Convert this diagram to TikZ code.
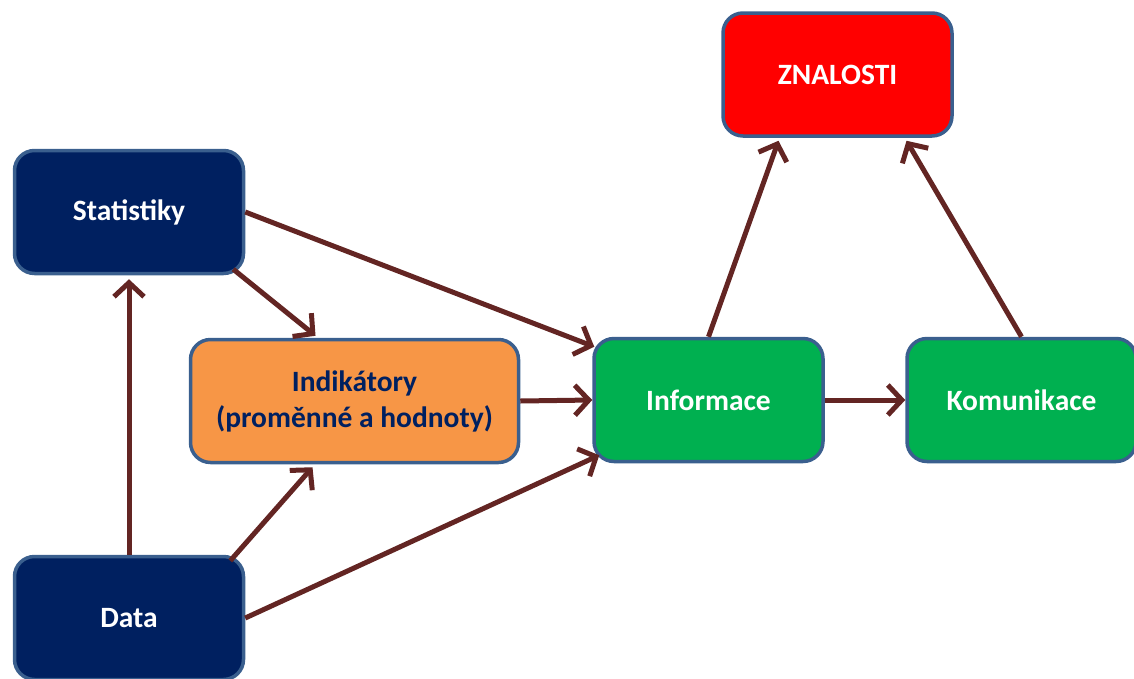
\documentclass[tikz,border=0pt]{standalone}
\usepackage{fontspec}
\setmainfont{Carlito}
\usetikzlibrary{arrows.meta,calc}
\definecolor{navy}{HTML}{002060}
\definecolor{orng}{HTML}{F79646}
\definecolor{grn}{HTML}{00B050}
\definecolor{rd}{HTML}{FF0000}
\definecolor{edge}{HTML}{3A5F8E}
\definecolor{arr}{HTML}{632523}
\tikzset{
  box/.style={draw=edge, line width=3.5pt, rounded corners=20pt,
    minimum width=229pt, minimum height=123pt, inner sep=0pt,
    font=\bfseries\fontsize{29.5}{36}\selectfont, text=white, align=center},
  link/.style={draw=arr, line width=5pt,
    -{Straight Barb[length=14pt,width=30pt,line width=5pt]}}
}
\begin{document}
\begin{tikzpicture}[x=1pt,y=-1pt]
\useasboundingbox (0,0) rectangle (1134,678);
\clip (0,0) rectangle (1134,678);

\node[box, fill=navy] (stat) at (129,212) {Statistiky};
\node[box, fill=navy] (data) at (129,618) {Data};
\node[box, fill=orng, text=navy, minimum width=328pt] (ind) at (354.5,401)
  {Indikátory\\(proměnné a hodnoty)};
\node[box, fill=grn] (inf) at (708.5,400) {Informace};
\node[box, fill=grn] (kom) at (1021.5,400) {Komunikace};
\node[box, fill=rd] (zn) at (837.5,74.5) {ZNALOSTI};

\draw[link] (data.north) -- ($(stat.south)+(0,4)$);
\draw[link] ($(data.north east)+(-15,6)$) -- ($(ind.south)+(-42,3)$);
\draw[link] ($(data.east)+(0,0)$) -- ($(inf.south west)+(7,-8)$);
\draw[link] (stat.east) -- ($(inf.north west)+(2,10)$);
\draw[link] ($(stat.south east)+(-12,-6)$) -- ($(ind.north)+(-39,-2)$);
\draw[link] (ind.east) -- (inf.west);
\draw[link] (inf.east) -- (kom.west);
\draw[link] (inf.north) -- ($(zn.south)+(-59,3)$);
\draw[link] (kom.north) -- ($(zn.south)+(69,3)$);
\end{tikzpicture}
\end{document}
